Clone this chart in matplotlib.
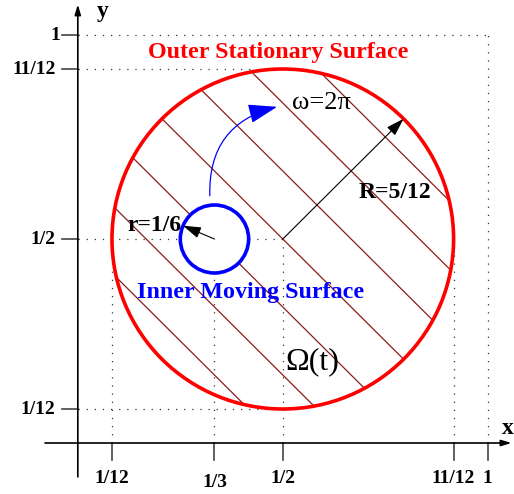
import numpy as np
import matplotlib
matplotlib.use("Agg")
import matplotlib.pyplot as plt
from matplotlib.patches import Circle, FancyArrowPatch

plt.rcParams["font.family"] = ["Liberation Serif", "DejaVu Serif"]

# geometry of the domain
outer_center = (1 / 2, 1 / 2)
outer_radius = 5 / 12
inner_center = (1 / 3, 1 / 2)
inner_radius = 1 / 12
hatch_offsets = [k / 6 for k in range(3, 10)]  # lines x + y = c

# ticks
x_ticks = [1 / 12, 1 / 3, 1 / 2, 11 / 12, 1]
x_tick_labels = ["1/12", "1/3", "1/2", "11/12", "1"]
y_ticks = [1 / 12, 1 / 2, 11 / 12, 1]
y_tick_labels = ["1/12", "1/2", "11/12", "1"]

fig = plt.figure(figsize=(5.14, 4.94), dpi=100)
ax = fig.add_axes([0, 0, 1, 1])
ax.set_xlim(-0.1898, 1.0640)
ax.set_ylim(-0.125, 1.0858)
ax.axis("off")

dot = dict(color="#333333", lw=0.9, linestyle=(0, (1, 5.5)), zorder=1)
cx, cy = outer_center
# horizontal dotted guides
ax.plot([0, 1], [1, 1], **dot)
ax.plot([0, cx], [11 / 12, 11 / 12], **dot)
ax.plot([0, cx], [1 / 2, 1 / 2], **dot)
ax.plot([0, cx], [1 / 12, 1 / 12], **dot)
# vertical dotted guides
ax.plot([1, 1], [0, 1], **dot)
for xv in [1 / 12, 1 / 3, 1 / 2, 11 / 12]:
    ax.plot([xv, xv], [0, 1 / 2], **dot)

# axes with arrows
ax.annotate("", xy=(1.058, 0), xytext=(-0.08, 0),
            arrowprops=dict(arrowstyle="-|>,head_length=0.6,head_width=0.18",
                            color="black", lw=1.2, shrinkA=0, shrinkB=0))
ax.annotate("", xy=(0, 1.075), xytext=(0, -0.083),
            arrowprops=dict(arrowstyle="-|>,head_length=0.6,head_width=0.18",
                            color="black", lw=1.2, shrinkA=0, shrinkB=0))

# tick marks and labels
for xv, lab in zip(x_ticks, x_tick_labels):
    ax.plot([xv, xv], [0, -0.042], color="#444444", lw=1.2)
    ax.text(xv, -0.088 if lab != "1/3" else -0.097, lab, ha="center", va="center",
            fontsize=14, fontweight="bold")
for yv, lab in zip(y_ticks, y_tick_labels):
    ax.plot([-0.039, 0], [yv, yv], color="#444444", lw=1.2)
    ax.text(-0.054 if lab != "1" else -0.043, yv, lab, ha="right", va="center",
            fontsize=14, fontweight="bold")

ax.text(1.049, 0.036, "x", ha="center", va="center", fontsize=17, fontweight="bold")
ax.text(0.062, 1.058, "y", ha="center", va="center", fontsize=17, fontweight="bold")

# hatching inside the outer circle
clip = Circle(outer_center, outer_radius, transform=ax.transData, fc="none", ec="none")
ax.add_patch(clip)
for c in hatch_offsets:
    xs = np.array([c - 1.2, c + 0.2])
    ln, = ax.plot(xs, c - xs, color="#8c1c1c", lw=0.9, zorder=2)
    ln.set_clip_path(clip)

ax.add_patch(Circle(outer_center, outer_radius, fc="none", ec="#ff0000", lw=2.6, zorder=3))
ax.add_patch(Circle(inner_center, inner_radius, fc="white", ec="#0000ff", lw=2.6, zorder=4))

# radius arrows
ang = np.pi / 4
ax.annotate("", xy=(cx + outer_radius * np.cos(ang), cy + outer_radius * np.sin(ang)),
            xytext=outer_center,
            arrowprops=dict(arrowstyle="-|>,head_length=1.1,head_width=0.35",
                            color="black", lw=0.8, shrinkA=0, shrinkB=0), zorder=5)
ang_r = np.deg2rad(157)
ix, iy = inner_center
ax.annotate("", xy=(ix + inner_radius * np.cos(ang_r), iy + inner_radius * np.sin(ang_r)),
            xytext=inner_center,
            arrowprops=dict(arrowstyle="-|>,head_length=1.1,head_width=0.35",
                            color="black", lw=0.8, shrinkA=0, shrinkB=0), zorder=5)

# rotation arrow
rot = FancyArrowPatch((0.322, 0.606), (0.486, 0.824), connectionstyle="arc3,rad=-0.4",
                      arrowstyle="-|>,head_length=1.2,head_width=0.4",
                      mutation_scale=15, color="#0000ff", lw=0.9, shrinkA=0, shrinkB=0,
                      zorder=5)
ax.add_patch(rot)

# labels
ax.text(0.488, 0.956, "Outer Stationary Surface", color="#ff0000", ha="center",
        va="center", fontsize=17.3, fontweight="bold")
ax.text(0.422, 0.368, "Inner Moving Surface", color="#0000ff", ha="center",
        va="center", fontsize=17.3, fontweight="bold")
ax.text(0.595, 0.833, "ω=2π", ha="center", va="center", fontsize=19)
ax.text(0.774, 0.613, "R=5/12", ha="center", va="center", fontsize=17, fontweight="bold")
ax.text(0.188, 0.532, "r=1/6", ha="center", va="center", fontsize=17, fontweight="bold")
ax.text(0.571, 0.199, "Ω(t)", ha="center", va="center", fontsize=23)

fig.savefig("out.png", dpi=100)
